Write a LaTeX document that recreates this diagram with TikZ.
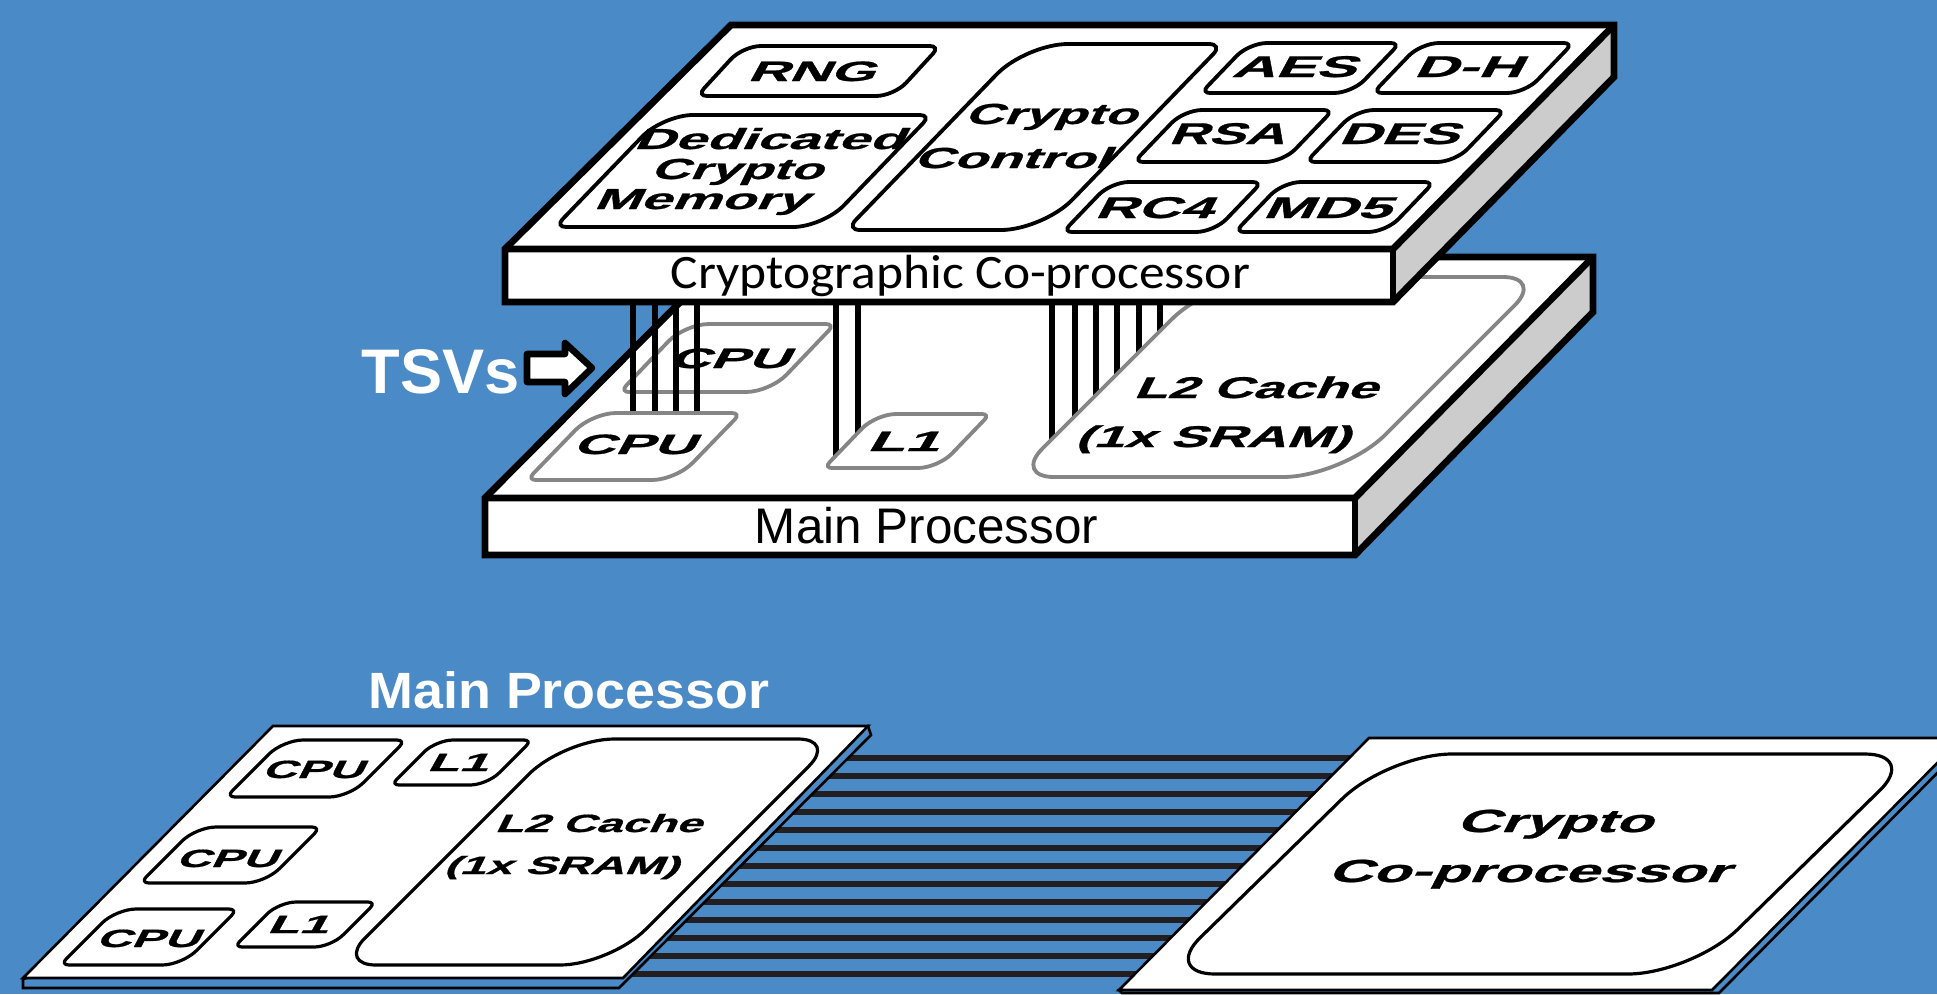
\documentclass[tikz,border=0pt]{standalone}
\usepackage{fontspec}
\setmainfont{Liberation Sans}
\newfontfamily\capfont{Carlito}
\newfontfamily\slantfont[BoldFeatures={FakeSlant=0.27,FakeBold=0.7}]{Liberation Sans}
\usetikzlibrary{calc}
\definecolor{bgblue}{HTML}{4A8AC7}
\definecolor{sidegray}{HTML}{CCCCCC}
\definecolor{outgray}{HTML}{858585}
\definecolor{stripe}{HTML}{231F20}
\tikzset{
  blackbox/.style={draw=black,line width=3.8pt,fill=white},
  flatbox/.style={draw=black,line width=3.2pt,fill=white},
  graybox/.style={draw=outgray,line width=3.8pt,fill=white},
  slab/.style={draw=black,line width=6.8pt,line join=miter},
  thinplate/.style={draw=black,line width=2.6pt,fill=white,line join=miter},
  thinshadow/.style={draw=black,line width=2.6pt,fill=bgblue,line join=miter},
  tsv/.style={draw=black,line width=6.8pt},
  bus/.style={draw=stripe,line width=6.3pt},
}
% rounded skewed box: style, xTL, xTR, ytop, ybottom, skew, big radius, small radius
\newcommand\pbox[8]{%
  \pgfmathsetmacro\xC{#3-#6}\pgfmathsetmacro\xD{#2-#6}%
  \pgfmathsetmacro\kb{0.45*#7}\pgfmathsetmacro\ks{0.45*#8}%
  \coordinate (pA) at (#2,#4);\coordinate (pB) at (#3,#4);
  \coordinate (pC) at (\xC,#5);\coordinate (pD) at (\xD,#5);
  \draw[#1] ($(pA)!#7pt!(pB)$) -- ($(pB)!#8pt!(pA)$)
    .. controls ($(pB)!\ks pt!(pA)$) and ($(pB)!\ks pt!(pC)$) .. ($(pB)!#8pt!(pC)$)
    -- ($(pC)!#7pt!(pB)$)
    .. controls ($(pC)!\kb pt!(pB)$) and ($(pC)!\kb pt!(pD)$) .. ($(pC)!#7pt!(pD)$)
    -- ($(pD)!#8pt!(pC)$)
    .. controls ($(pD)!\ks pt!(pC)$) and ($(pD)!\ks pt!(pA)$) .. ($(pD)!#8pt!(pA)$)
    -- ($(pA)!#7pt!(pD)$)
    .. controls ($(pA)!\kb pt!(pD)$) and ($(pA)!\kb pt!(pB)$) .. ($(pA)!#7pt!(pB)$)
    -- cycle;}
% text: name, colour, x, baseline y, size, width, text
\newcommand\lbl[7]{%
  \node[anchor=base,inner sep=0pt,outer sep=0pt,text=#2] (#1) at (#3,#4)
    {\fontsize{#5pt}{#5pt}\selectfont\resizebox{#6pt}{\height}{#7}};}
% slanted wide label; x is that of the ink, so take off the lean
\newcommand\bil[6]{%
  \pgfmathsetmacro\bx{#2-0.16*#4}%
  \lbl{#1}{black}{\bx}{#3}{#4}{#5}{\slantfont\bfseries #6}}
% slab: back-left, back-right, side-bottom, front-right-top, front-right-bottom, front-left-bottom, front-left-top
\newcommand\slabdraw[7]{%
  \fill[white] #1 -- #2 -- #4 -- #7 -- cycle;
  \fill[sidegray] #2 -- #3 -- #5 -- #4 -- cycle;
  \fill[white] #7 -- #4 -- #5 -- #6 -- cycle;
  \draw[slab] #1 -- #2 -- #3 -- #5 -- #6 -- #7 -- cycle;
  \draw[slab] #7 -- #4 -- #2;
  \draw[slab] #4 -- #5;}
\begin{document}
\begin{tikzpicture}[x=1pt,y=-1pt]
\useasboundingbox (0,0) rectangle (1937,994);
\clip (0,0) rectangle (1937,994);
\fill[bgblue] (0,0) rectangle (1937,994);

% ---- planar layout: bus stripes
\foreach \yy in {758,776,794,812,830,848,866,884,902,920,938,956,974}
  \draw[bus] (600,\yy) -- (1400,\yy);

% left planar die
\draw[thinshadow] (23,979) -- (23,988) -- (619,988) -- (871,735) -- (868,726) -- cycle;
\draw[thinplate] (273,726) -- (868,726) -- (623,978) -- (23,978) -- cycle;
\pbox{flatbox}{283}{406}{740}{797}{57}{20}{9}
\pbox{flatbox}{436}{532}{740}{785}{45}{17}{8}
\pbox{flatbox}{564}{836}{739}{965}{226}{50}{38}
\pbox{flatbox}{196}{321}{827}{883}{56}{20}{9}
\pbox{flatbox}{116}{238}{909}{965}{56}{20}{9}
\pbox{flatbox}{279}{376}{902}{947}{45}{17}{8}
\bil{cpua}{316}{778}{25}{101}{CPU}
\bil{lia}{461}{771}{25}{61}{L1}
\bil{ltwoa}{602}{832}{25}{207}{L2 Cache}
\bil{ltwob}{565}{874}{25}{235}{(1x SRAM)}
\bil{cpub}{230}{867}{25}{101}{CPU}
\bil{cpuc}{151}{947}{25}{103}{CPU}
\bil{lib}{301}{933}{25}{61}{L1}
\lbl{mainhead}{white}{569}{708}{51}{401}{\bfseries Main Processor}

% right planar die
\draw[thinshadow] (1122,993) -- (1719,993) -- (1965,745) -- (1962,738) -- (1119,990) -- cycle;
\draw[thinplate] (1369,738) -- (1962,738) -- (1712,990) -- (1119,990) -- cycle;
\pbox{flatbox}{1388}{1917}{754}{974}{225}{64}{52}
\bil{cryptoa}{1559}{832}{32}{196}{Crypto}
\bil{cryptob}{1533}{882}{32}{401}{Co-processor}

% ---- stacked layout: lower slab
\slabdraw{(725,257)}{(1593,257)}{(1593,312)}{(1355,498)}{(1355,555)}{(485,555)}{(485,498)}
\lbl{mainp}{black}{926.5}{543}{50}{343}{Main Processor}

% back CPU, then through-silicon vias
\pbox{graybox}{685}{835}{324}{392}{65}{24}{9}
\bil{cpuback}{733}{368}{28}{120}{CPU}
\foreach \xx in {633,655,676,697} \draw[tsv] (\xx,300) -- (\xx,414);
\foreach \xx in {836,858} \draw[tsv] (\xx,300) -- (\xx,458);
\foreach \xx in {1052,1075,1096,1117,1139,1160} \draw[tsv] (\xx,300) -- (\xx,440);

% components on the main processor
\pbox{graybox}{592}{741}{413}{480}{65}{24}{9}
\pbox{graybox}{876}{990}{414}{468}{52}{20}{8}
\pbox{graybox}{1214}{1543}{277}{477}{200}{60}{40}
\bil{cpufront}{638}{454}{28}{122}{CPU}
\bil{lifront}{907}{451}{28}{72}{L1}
\bil{ltwoc}{1260}{398}{30}{244}{L2 Cache}
\bil{ltwod}{1217}{447}{30}{275}{(1x SRAM)}

% ---- stacked layout: upper slab
\slabdraw{(731,25)}{(1614,25)}{(1614,77)}{(1393,249)}{(1393,302)}{(505,302)}{(505,249)}
\lbl{cryptop}{black}{960.5}{288}{48}{579}{\capfont Cryptographic Co-processor}

\pbox{blackbox}{743}{940}{46}{96}{46}{18}{10}
\pbox{blackbox}{663}{931}{115}{227}{108}{30}{11}
\pbox{blackbox}{1026}{1223}{44}{230}{180}{42}{14}
\pbox{blackbox}{1249}{1400}{43}{93}{48}{18}{9}
\pbox{blackbox}{1421}{1573}{43}{93}{48}{18}{9}
\pbox{blackbox}{1184}{1333}{110}{162}{50}{18}{9}
\pbox{blackbox}{1356}{1505}{110}{162}{50}{18}{9}
\pbox{blackbox}{1111}{1262}{182}{232}{48}{18}{9}
\pbox{blackbox}{1283}{1434}{182}{232}{48}{18}{9}

\bil{rng}{815}{81}{28}{127}{RNG}
\bil{ded}{773}{149}{29}{270}{Dedicated}
\bil{dcr}{741}{179}{29}{172}{Crypto}
\bil{dme}{705}{209}{29}{214}{Memory}
\bil{ccr}{1055}{124}{29}{172}{Crypto}
\bil{cco}{1016}{168}{29}{196}{Control}
\bil{aes}{1298}{77}{30}{124}{AES}
\bil{dh}{1472}{77}{30}{108}{D-H}
\bil{rsa}{1231}{144}{30}{116}{RSA}
\bil{des}{1403}{144}{30}{120}{DES}
\bil{rcf}{1158}{218}{30}{118}{RC4}
\bil{mdf}{1331}{218}{30}{128}{MD5}

% TSV callout
\lbl{tsvs}{white}{441}{393}{63}{158}{\bfseries TSVs}
\draw[draw=black,fill=white,line width=6.6pt,line join=round]
  (527,354) -- (565,354) -- (565,343) -- (592,368) -- (565,394) -- (565,382) -- (527,382) -- cycle;
\end{tikzpicture}
\end{document}
